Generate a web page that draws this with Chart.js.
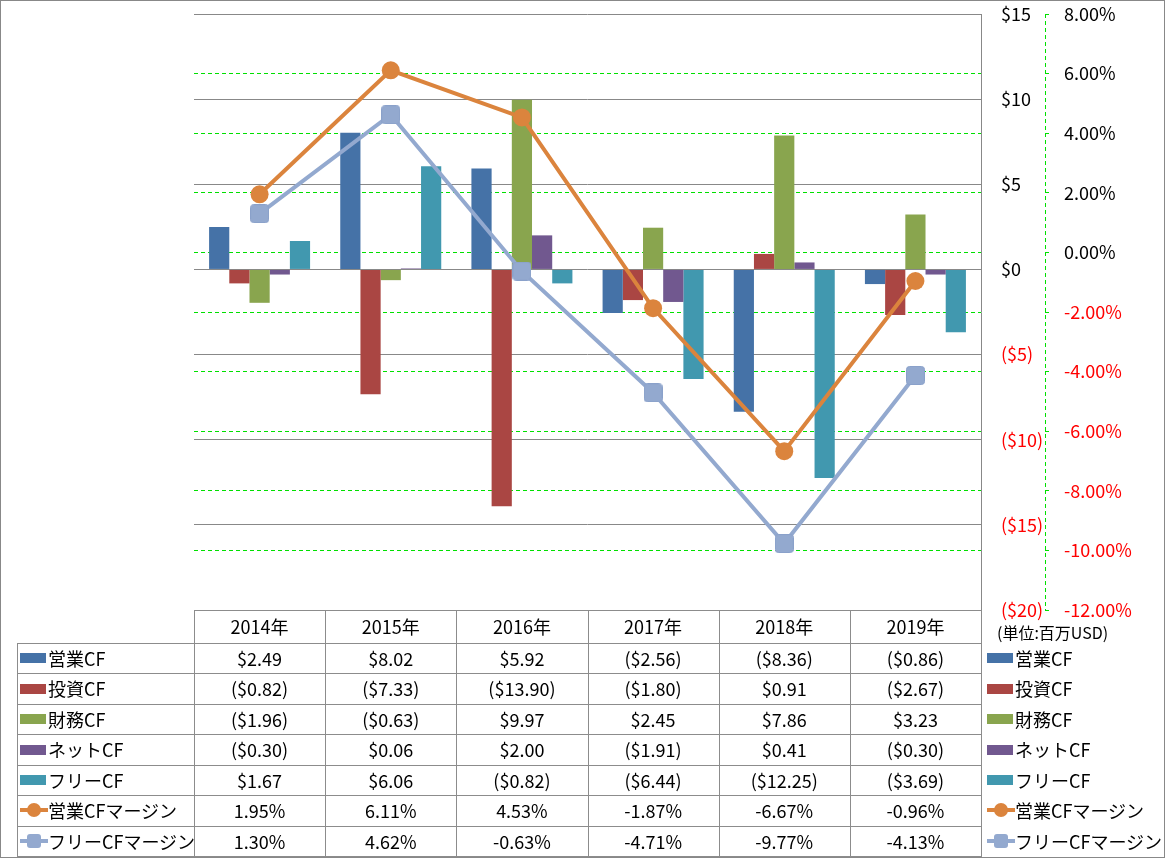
<!DOCTYPE html>
<html><head><meta charset="utf-8">
<script src="https://cdn.jsdelivr.net/npm/chart.js@4"></script>
<style>
html,body{margin:0;padding:0;background:#fff;}
#wrap{position:relative;width:1165px;height:858px;overflow:hidden;font-family:"Noto Sans CJK JP","Noto Sans",sans-serif;background:#fff;}
#c{position:absolute;left:0;top:0;}
#frame{position:absolute;left:0;top:0;width:1165px;height:858px;box-sizing:border-box;border:1px solid #888;pointer-events:none;}
.cell{position:absolute;text-align:center;font-size:18px;color:#000;white-space:nowrap;}
.lab{position:absolute;text-align:left;font-size:18px;color:#000;white-space:nowrap;}
.hl{position:absolute;height:1px;background:#8c8c8c;}
.vl{position:absolute;width:1px;background:#8c8c8c;}
.key{position:absolute;}
</style></head>
<body><div id="wrap"><canvas id="c" width="1165" height="858"></canvas><div id="frame"></div></div>
<script>
const categories = ['2014年','2015年','2016年','2017年','2018年','2019年'];
const opCF   = [2.49, 8.02, 5.92, -2.56, -8.36, -0.86];
const invCF  = [-0.82, -7.33, -13.90, -1.80, 0.91, -2.67];
const finCF  = [-1.96, -0.63, 9.97, 2.45, 7.86, 3.23];
const netCF  = [-0.30, 0.06, 2.00, -1.91, 0.41, -0.30];
const freeCF = [1.67, 6.06, -0.82, -6.44, -12.25, -3.69];
const opMargin   = [1.95, 6.11, 4.53, -1.87, -6.67, -0.96];
const freeMargin = [1.30, 4.62, -0.63, -4.71, -9.77, -4.13];
const seriesNames = ['営業CF','投資CF','財務CF','ネットCF','フリーCF','営業CFマージン','フリーCFマージン'];
const unitLabel = '(単位:百万USD)';

const colors = ['#4572A7','#AA4643','#89A54E','#71588F','#4198AF','#DB843D','#93A9CF'];

function fmtMoney(v){ const s='$'+Math.abs(v).toFixed(2); return v<0?'('+s+')':s; }
function fmtPct(v){ return v.toFixed(2)+'%'; }
function fmtAxisMoney(v){ const s='$'+Math.abs(v); return v<0?'('+s+')':s; }

// custom rounded square marker
const sq = document.createElement('canvas');
sq.width = 19; sq.height = 19;
(function(){
  const g = sq.getContext('2d');
  g.fillStyle = '#93A9CF';
  g.beginPath();
  if (g.roundRect) g.roundRect(0.5,0.5,18,18,3); else g.rect(0.5,0.5,18,18);
  g.fill();
  g.strokeStyle = '#8AA1CA'; g.lineWidth = 1; g.stroke();
})();

const axisLinePlugin = {
  id:'axisLine',
  afterDraw(chart){
    const s = chart.scales.y1, ctx = chart.ctx;
    const x = Math.round(s.left) + 0.5;
    ctx.save();
    ctx.strokeStyle = '#00E000'; ctx.lineWidth = 1; ctx.setLineDash([4,3]);
    ctx.beginPath(); ctx.moveTo(x, s.top); ctx.lineTo(x, s.bottom); ctx.stroke();
    ctx.restore();
  }
};

const barData = [opCF, invCF, finCF, netCF, freeCF];
const datasets = [];
datasets.push({type:'line', label:seriesNames[5], data:opMargin, yAxisID:'y1', borderColor:colors[5], backgroundColor:colors[5],
  borderWidth:4, pointRadius:9, pointHoverRadius:9, pointStyle:'circle', pointBorderWidth:0, tension:0, order:0});
datasets.push({type:'line', label:seriesNames[6], data:freeMargin, yAxisID:'y1', borderColor:colors[6], backgroundColor:colors[6],
  borderWidth:4, pointRadius:9, pointHoverRadius:9, pointStyle:sq, tension:0, order:1});
barData.forEach((d,i)=>datasets.push({type:'bar', label:seriesNames[i], data:d, yAxisID:'y', backgroundColor:colors[i],
  borderWidth:0, categoryPercentage:0.77, barPercentage:1.0, order:2}));

const chart = new Chart(document.getElementById('c'), {
  data:{labels:categories, datasets},
  options:{
    responsive:false, animation:false, devicePixelRatio:1,
    layout:{padding:{left:194, top:14, right:10, bottom:248}},
    plugins:{legend:{display:false}, tooltip:{enabled:false}},
    scales:{
      x:{display:false, offset:true},
      y:{position:'right', min:-20, max:15,
        ticks:{stepSize:5, padding:20, font:{size:18, family:'"Noto Sans CJK JP"'},
          color:(c)=> c.tick.value<0?'#FF0000':'#000000', callback:(v)=>fmtAxisMoney(v)},
        grid:{color:'#888888', lineWidth:1, drawTicks:false},
        border:{display:true, color:'#888888'},
        afterFit:(s)=>{s.width=64; s.paddingTop=0; s.paddingBottom=0;}
      },
      y1:{position:'right', min:-12, max:8,
        ticks:{stepSize:2, padding:15, font:{size:18, family:'"Noto Sans CJK JP"'},
          color:(c)=> c.tick.value<0?'#FF0000':'#000000', callback:(v)=>fmtPct(v)},
        grid:{color:(c)=> (c.tick && (c.tick.value===8 || c.tick.value===-12)) ? 'rgba(0,0,0,0)' : '#00E000',
          lineWidth:1, drawTicks:true, tickLength:4, tickColor:'#00E000'},
        border:{display:false, dash:[4,3]},
        afterFit:(s)=>{s.width=110; s.paddingTop=0; s.paddingBottom=0;}
      }
    }
  },
  plugins:[axisLinePlugin]
});

// ---- data table and legend (HTML) ----
const wrap = document.getElementById('wrap');
function add(cls, style, text){
  const d = document.createElement('div'); d.className = cls;
  Object.assign(d.style, style); if (text!==undefined) d.textContent = text;
  wrap.appendChild(d); return d;
}
function addKey(x, cy, i){
  if (i < 5){
    add('key', {left:x+'px', top:(cy-5)+'px', width:'26px', height:'10px', background:colors[i]});
  } else {
    add('key', {left:x+'px', top:(cy-2)+'px', width:'28px', height:'4px', background:colors[i]});
    if (i === 5) add('key', {left:(x+7)+'px', top:(cy-7)+'px', width:'14px', height:'14px', borderRadius:'50%', background:colors[i]});
    else add('key', {left:(x+7)+'px', top:(cy-7)+'px', width:'14px', height:'14px', borderRadius:'3px', background:colors[i]});
  }
}
const ca = chart.chartArea;
const L = ca.left, R = ca.right, B = ca.bottom;
const colW = (R-L)/categories.length;
const headTop = B, headBot = 643;
const rowH = (856-643)/7;
const values = [opCF, invCF, finCF, netCF, freeCF, opMargin, freeMargin];
const fmts = [fmtMoney,fmtMoney,fmtMoney,fmtMoney,fmtMoney,fmtPct,fmtPct];

// header
categories.forEach((c,i)=>{
  add('cell', {left:(L+i*colW)+'px', top:headTop+'px', width:colW+'px', height:(headBot-headTop)+'px', lineHeight:(headBot-headTop)+'px'}, c);
});
// rows
values.forEach((vals,r)=>{
  const top = headBot + r*rowH;
  const cy = top + rowH/2;
  addKey(20, cy, r);
  add('lab', {left:'48px', top:top+'px', height:rowH+'px', lineHeight:rowH+'px'}, seriesNames[r]);
  vals.forEach((v,i)=>{
    add('cell', {left:(L+i*colW)+'px', top:top+'px', width:colW+'px', height:rowH+'px', lineHeight:rowH+'px'}, fmts[r](v));
  });
  // right legend
  addKey(987, cy, r);
  add('lab', {left:'1015px', top:top+'px', height:rowH+'px', lineHeight:rowH+'px'}, seriesNames[r]);
});
// grid lines
add('hl', {left:L+'px', top:Math.round(headTop)+'px', width:(R-L+1)+'px'});
for (let r=0;r<=7;r++){
  add('hl', {left:'17px', top:Math.round(headBot + r*rowH)+'px', width:(R-17+1)+'px'});
}
add('vl', {left:'17px', top:headBot+'px', height:(856-headBot)+'px'});
for (let i=0;i<=categories.length;i++){
  add('vl', {left:Math.round(L+i*colW)+'px', top:Math.round(headTop)+'px', height:(856-headTop)+'px'});
}
add('lab', {left:'997px', top:'620px', fontSize:'16px', lineHeight:'24px'}, unitLabel);
</script>
</body></html>
